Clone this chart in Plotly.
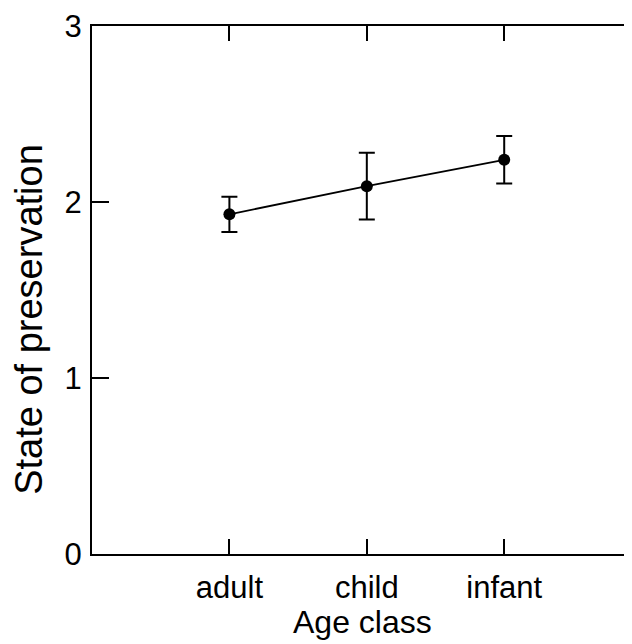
import plotly.graph_objects as go

categories = ["adult", "child", "infant"]
means = [1.93, 2.09, 2.24]
errors = [0.10, 0.19, 0.135]
y_ticks = [0, 1, 2, 3]
right_ticks = [1, 2]

FONT = "Liberation Sans, Arial, sans-serif"

fig = go.Figure()
fig.add_trace(go.Scatter(
    x=categories, y=means,
    mode="lines+markers",
    line=dict(color="black", width=1.8),
    marker=dict(color="black", size=12),
    error_y=dict(type="data", array=errors, visible=True,
                 color="black", thickness=2, width=8),
    showlegend=False, cliponaxis=False,
))
# invisible trace to carry the right-side tick axis
fig.add_trace(go.Scatter(x=categories, y=means, yaxis="y2", mode="markers",
                         marker=dict(opacity=0), showlegend=False, hoverinfo="skip"))

fig.update_layout(
    width=624, height=636,
    margin=dict(l=84, r=0, t=18, b=90, autoexpand=False),
    paper_bgcolor="white", plot_bgcolor="white",
    font=dict(family=FONT, size=31, color="black"),
    xaxis=dict(
        type="category", range=[-1, 2.93], automargin=False,
        showline=True, linecolor="black", linewidth=2,
        mirror="ticks", ticks="inside", ticklen=15, tickwidth=1.5,
        tickcolor="black", showgrid=False, zeroline=False,
        tickfont=dict(size=31), ticklabelstandoff=5,
    ),
    yaxis=dict(
        range=[0, 3], tickvals=y_ticks, automargin=False,
        showline=True, linecolor="black", linewidth=2,
        ticks="inside", ticklen=17, tickwidth=1.5, tickcolor="black",
        showgrid=False, zeroline=False, tickfont=dict(size=31),
        ticklabelstandoff=2,
    ),
    yaxis2=dict(
        range=[0, 3], tickvals=right_ticks, overlaying="y", side="right",
        anchor="x", showline=False, linewidth=0, linecolor="rgba(0,0,0,0)",
        ticks="inside", ticklen=7, tickwidth=2,
        tickcolor="black", showticklabels=False, showgrid=False, zeroline=False,
        automargin=False,
    ),
    annotations=[
        dict(text="State of preservation", xref="paper", yref="paper",
             x=-0.117, y=0.445, xanchor="center", yanchor="middle",
             textangle=-90, showarrow=False, font=dict(size=38)),
        dict(text="Age class", xref="paper", yref="paper",
             x=0.5, y=-0.129, xanchor="center", yanchor="middle",
             showarrow=False, font=dict(size=32)),
    ],
)

fig.write_html("out.html")
